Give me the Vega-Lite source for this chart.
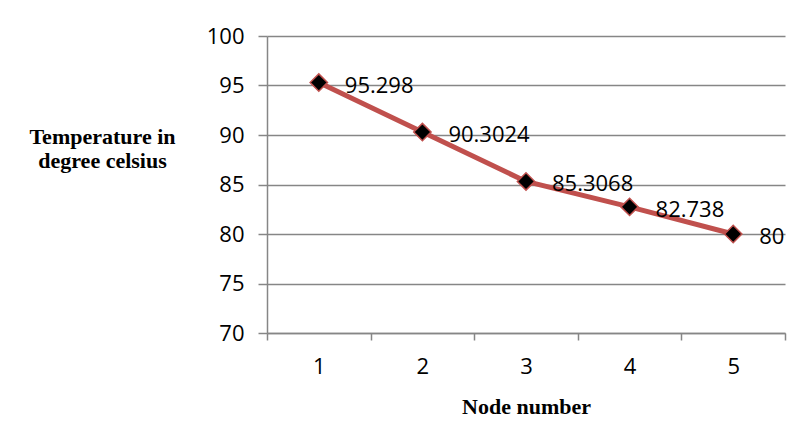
{
  "$schema": "https://vega.github.io/schema/vega-lite/v6.json",
  "width": 518,
  "height": 297,
  "autosize": {"type": "none"},
  "padding": {"left": 267, "top": 36, "right": 19, "bottom": 113},
  "background": "white",
  "config": {"view": {"stroke": null}, "font": "Open Sans"},
  "data": {
    "values": [
      {"node": 1, "temp": 95.298},
      {"node": 2, "temp": 90.3024},
      {"node": 3, "temp": 85.3068},
      {"node": 4, "temp": 82.738},
      {"node": 5, "temp": 80}
    ]
  },
  "encoding": {
    "x": {
      "field": "node",
      "type": "ordinal",
      "bandPosition": 0.5,
      "scale": {"type": "band", "paddingInner": 0, "paddingOuter": 0},
      "axis": {
        "title": "Node number",
        "titleFont": "Liberation Serif",
        "titleFontWeight": "bold",
        "titleFontSize": 22,
        "titleColor": "black",
        "titlePadding": 19,
        "labelAngle": 0,
        "labelFont": "Open Sans",
        "labelFontSize": 22,
        "labelColor": "black",
        "labelPadding": 16,
        "tickBand": "extent",
        "tickSize": 7,
        "tickWidth": 1.5,
        "tickColor": "#868686",
        "domainColor": "#868686",
        "domainWidth": 1.5,
        "grid": false
      }
    },
    "y": {
      "field": "temp",
      "type": "quantitative",
      "scale": {"domain": [70, 100], "nice": false, "zero": false},
      "axis": {
        "values": [70, 75, 80, 85, 90, 95, 100],
        "title": ["Temperature in", "degree celsius"],
        "titleAngle": 0,
        "titleFont": "Liberation Serif",
        "titleFontWeight": "bold",
        "titleFontSize": 22,
        "titleColor": "black",
        "titleAlign": "center",
        "titleBaseline": "middle",
        "titleLineHeight": 24,
        "titleX": -165,
        "titleY": 100,
        "labelFont": "Open Sans",
        "labelFontSize": 22,
        "labelColor": "black",
        "labelPadding": 14,
        "tickSize": 9,
        "tickWidth": 1.5,
        "tickColor": "#868686",
        "domainColor": "#868686",
        "domainWidth": 1.5,
        "gridColor": "#868686",
        "gridWidth": 1.5
      }
    }
  },
  "layer": [
    {"mark": {"type": "line", "color": "#C0504D", "strokeWidth": 5}},
    {
      "mark": {
        "type": "point",
        "shape": "diamond",
        "filled": true,
        "fill": "black",
        "stroke": "#C0504D",
        "strokeWidth": 1.5,
        "size": 300,
        "opacity": 1
      }
    },
    {
      "mark": {
        "type": "text",
        "align": "left",
        "baseline": "middle",
        "dx": 26,
        "dy": 3,
        "fontSize": 22,
        "font": "Open Sans",
        "color": "black"
      },
      "encoding": {"text": {"field": "temp", "type": "nominal"}}
    }
  ]
}
